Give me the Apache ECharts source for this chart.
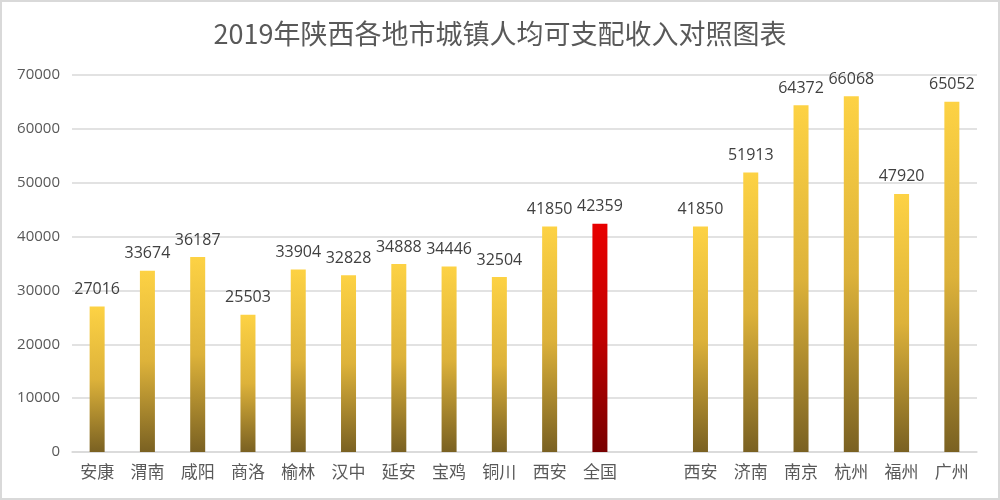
<!DOCTYPE html>
<html><head><meta charset="utf-8">
<script src="https://cdn.jsdelivr.net/npm/echarts@6/dist/echarts.min.js"></script>
<style>html,body{margin:0;padding:0;background:#fff}#c{width:1000px;height:500px}</style>
</head><body><div id="c"></div>
<script>
const titleText = '2019年陕西各地市城镇人均可支配收入对照图表';
const categories = ['安康','渭南','咸阳','商洛','榆林','汉中','延安','宝鸡','铜川','西安','全国','','西安','济南','南京','杭州','福州','广州'];
const values = [27016,33674,36187,25503,33904,32828,34888,34446,32504,41850,42359,null,41850,51913,64372,66068,47920,65052];
const highlightIndex = 10;
const yTicks = {min:0, max:70000, interval:10000};

const gold = new echarts.graphic.LinearGradient(0,0,0,1,[{offset:0,color:'#FDD244'},{offset:0.5,color:'#DDB23A'},{offset:1,color:'#7A6122'}]);
const red = new echarts.graphic.LinearGradient(0,0,0,1,[{offset:0,color:'#E80000'},{offset:0.5,color:'#C00000'},{offset:1,color:'#780000'}]);

const data = values.map((v,i)=> v==null ? '-' : {value:v, itemStyle:{color: i===highlightIndex ? red : gold}});

const chart = echarts.init(document.getElementById('c'));
chart.setOption({
  animation:false,
  title:{text:titleText,left:'center',top:15,textStyle:{fontFamily:'Noto Sans CJK SC',fontSize:27,fontWeight:'normal',color:'#595959'}},
  graphic:[{type:'rect',shape:{x:1,y:1,width:998,height:498},style:{fill:'none',stroke:'#d9d9d9',lineWidth:2},silent:true}],
  grid:{left:72,right:23,top:75,bottom:48},
  xAxis:{type:'category',data:categories,axisTick:{show:false},
    axisLine:{lineStyle:{color:'#d9d9d9',width:1.5}},
    axisLabel:{color:'#595959',fontSize:17,fontFamily:'Noto Sans CJK SC',margin:11,interval:0}},
  yAxis:{type:'value',min:yTicks.min,max:yTicks.max,interval:yTicks.interval,
    axisLine:{show:false},axisTick:{show:false},
    splitLine:{lineStyle:{color:'#d9d9d9',width:1.5}},
    axisLabel:{color:'#595959',fontSize:15,fontFamily:'Open Sans',margin:12,formatter:v=>String(v)}},
  series:[{type:'bar',data:data,barWidth:15,
    label:{show:true,position:'top',distance:9,color:'#404040',fontSize:16,fontFamily:'Open Sans'}}]
});
</script></body></html>
